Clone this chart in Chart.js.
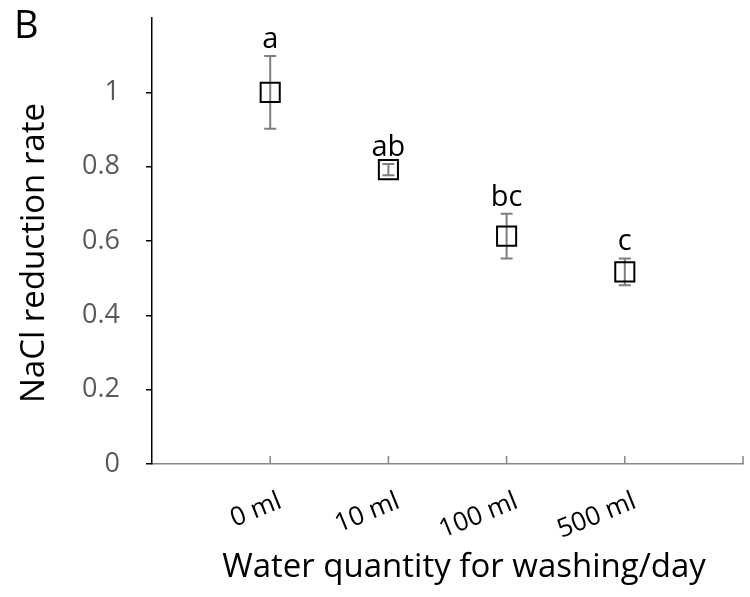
<!DOCTYPE html>
<html>
<head>
<meta charset="utf-8">
<script src="https://cdn.jsdelivr.net/npm/chart.js"></script>
<style>
  html, body { margin: 0; padding: 0; background: #fff; }
</style>
</head>
<body>
<canvas id="chart" width="750" height="597"></canvas>
<script>
const categories = ['0 ml', '10 ml', '100 ml', '500 ml'];
const means = [1.0, 0.792, 0.613, 0.517];
const errors = [0.098, 0.015, 0.06, 0.036];
const letters = ['a', 'ab', 'bc', 'c'];
const yTicks = [0, 0.2, 0.4, 0.6, 0.8, 1];
const xTitle = 'Water quantity for washing/day';
const yTitle = 'NaCl reduction rate';

const FONT = '"Open Sans"';
Chart.defaults.font.family = 'Open Sans';

// error bars, upward x tick marks, letters and axis titles
const extras = {
  id: 'extras',
  beforeDatasetsDraw(chart) {
    const ctx = chart.ctx, x = chart.scales.x, y = chart.scales.y;
    ctx.save();
    ctx.strokeStyle = '#7f7f7f';
    ctx.lineWidth = 2;
    means.forEach((m, i) => {
      const px = x.getPixelForValue(i + 1);
      const top = y.getPixelForValue(m + errors[i]);
      const bot = y.getPixelForValue(m - errors[i]);
      ctx.beginPath();
      ctx.moveTo(px, top); ctx.lineTo(px, bot);
      ctx.moveTo(px - 6, top); ctx.lineTo(px + 6, top);
      ctx.moveTo(px - 6, bot); ctx.lineTo(px + 6, bot);
      ctx.stroke();
    });
    ctx.restore();
  },
  afterDatasetsDraw(chart) {
    const ctx = chart.ctx, x = chart.scales.x, y = chart.scales.y;
    ctx.save();
    ctx.strokeStyle = '#868686';
    ctx.lineWidth = 1.5;
    for (let v = 1; v <= categories.length + 1; v++) {
      const px = x.getPixelForValue(v);
      ctx.beginPath();
      ctx.moveTo(px, y.bottom);
      ctx.lineTo(px, y.bottom - 8);
      ctx.stroke();
    }
    ctx.fillStyle = '#000';
    ctx.font = '29px ' + FONT;
    ctx.textAlign = 'center';
    ctx.textBaseline = 'alphabetic';
    letters.forEach((t, i) => {
      const px = x.getPixelForValue(i + 1);
      const top = y.getPixelForValue(means[i] + errors[i]);
      ctx.fillText(t, px, top - 8);
    });

    ctx.font = '33px ' + FONT;
    ctx.fillText(xTitle, 464, 577);

    ctx.save();
    ctx.translate(35, 253);
    ctx.rotate(-Math.PI / 2);
    ctx.textBaseline = 'middle';
    ctx.fillText(yTitle, 0, 0);
    ctx.restore();

    ctx.textAlign = 'left';
    ctx.font = '38px ' + FONT;
    ctx.fillText('B', 14, 38);
    ctx.restore();
  }
};

new Chart(document.getElementById('chart'), {
  type: 'scatter',
  data: {
    datasets: [{
      data: means.map((m, i) => ({ x: i + 1, y: m })),
      pointStyle: 'rect',
      pointRadius: 13.5,
      pointHoverRadius: 13.5,
      borderColor: '#000',
      borderWidth: 2,
      backgroundColor: 'rgba(0,0,0,0)'
    }]
  },
  options: {
    responsive: false,
    animation: false,
    layout: { autoPadding: false, padding: { top: 18, right: 7, left: 0, bottom: 0 } },
    plugins: { legend: { display: false }, tooltip: { enabled: false } },
    scales: {
      x: {
        type: 'linear',
        min: 0,
        max: 5,
        grid: { display: false },
        border: { color: '#868686', width: 1.5 },
        afterBuildTicks: s => { s.ticks = categories.map((c, i) => ({ value: i + 1 })); },
        ticks: {
          callback: v => categories[v - 1],
          minRotation: 22,
          maxRotation: 22,
          color: '#000',
          font: { family: 'Open Sans', size: 26 },
          padding: 14,
          labelOffset: 10
        },
        afterFit: s => { s.height = 133; s.paddingLeft = 0; s.paddingRight = 0; }
      },
      y: {
        min: 0,
        max: 1.2,
        afterBuildTicks: s => { s.ticks = yTicks.map(v => ({ value: v })); },
        grid: { drawOnChartArea: false, color: '#000', tickLength: 6, lineWidth: 1.5 },
        border: { color: '#000', width: 1.5 },
        ticks: {
          callback: v => String(v),
          color: '#595959',
          font: { family: 'Open Sans', size: 27 },
          padding: 26
        },
        afterFit: s => { s.width = 152; s.paddingTop = 0; s.paddingBottom = 0; }
      }
    }
  },
  plugins: [extras]
});
</script>
</body>
</html>
